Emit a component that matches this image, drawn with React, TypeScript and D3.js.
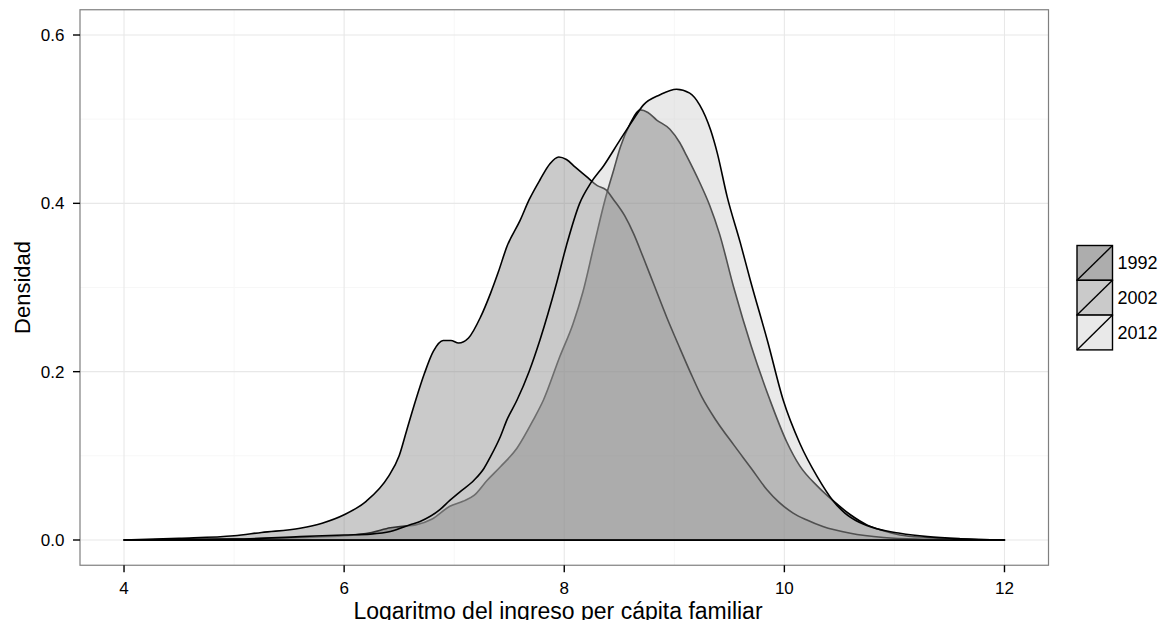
import React from 'react';
import * as d3 from 'd3';

// ---- data ----
const YEARS = ['1992', '2002', '2012'];

const X_1992 = [4.0, 5.0, 5.6, 6.0, 6.25, 6.42, 6.55, 6.65, 6.8, 6.96, 7.08, 7.18, 7.3, 7.42, 7.57, 7.72, 7.81, 7.96, 8.08, 8.17, 8.27, 8.37, 8.45, 8.51, 8.6, 8.69, 8.76, 8.84, 8.96, 9.05, 9.11, 9.23, 9.32, 9.41, 9.54, 9.7, 9.87, 10.02, 10.14, 10.3, 10.44, 10.6, 10.75, 10.9, 11.05, 11.3, 11.6, 12.0];
const D_1992 = [0, 0.001, 0.003, 0.005, 0.009, 0.0145, 0.0165, 0.018, 0.025, 0.040, 0.046, 0.053, 0.071, 0.087, 0.109, 0.143, 0.166, 0.218, 0.257, 0.295, 0.350, 0.404, 0.44, 0.467, 0.495, 0.511, 0.508, 0.499, 0.488, 0.472, 0.457, 0.425, 0.398, 0.364, 0.300, 0.23, 0.166, 0.117, 0.088, 0.064, 0.047, 0.03, 0.018, 0.011, 0.006, 0.003, 0.001, 0];

const X_2002 = [4.0, 4.5, 5.0, 5.25, 5.6, 5.8, 6.0, 6.2, 6.4, 6.5, 6.57, 6.65, 6.73, 6.81, 6.9, 6.97, 7.04, 7.13, 7.24, 7.33, 7.4, 7.48, 7.6, 7.68, 7.78, 7.87, 7.95, 8.02, 8.1, 8.2, 8.3, 8.38, 8.45, 8.55, 8.63, 8.72, 8.81, 8.93, 9.05, 9.15, 9.25, 9.38, 9.54, 9.7, 9.84, 9.95, 10.08, 10.2, 10.35, 10.6, 10.9, 11.2, 11.6, 12.0];
const D_2002 = [0, 0.002, 0.005, 0.009, 0.014, 0.02, 0.03, 0.046, 0.075, 0.10, 0.131, 0.166, 0.198, 0.224, 0.237, 0.237, 0.234, 0.240, 0.265, 0.293, 0.318, 0.349, 0.380, 0.404, 0.428, 0.447, 0.455, 0.452, 0.443, 0.432, 0.421, 0.416, 0.404, 0.385, 0.364, 0.335, 0.305, 0.265, 0.228, 0.198, 0.170, 0.142, 0.113, 0.085, 0.060, 0.045, 0.032, 0.024, 0.016, 0.008, 0.003, 0.001, 0.0003, 0];

const X_2012 = [4.0, 5.0, 5.6, 6.0, 6.24, 6.42, 6.51, 6.6, 6.69, 6.87, 6.96, 7.05, 7.18, 7.27, 7.33, 7.42, 7.48, 7.57, 7.68, 7.78, 7.93, 8.02, 8.14, 8.24, 8.36, 8.51, 8.62, 8.72, 8.87, 9.02, 9.14, 9.23, 9.33, 9.39, 9.48, 9.6, 9.69, 9.85, 9.99, 10.14, 10.3, 10.44, 10.55, 10.68, 10.85, 11.05, 11.3, 11.6, 12.0];
const D_2012 = [0, 0.001, 0.004, 0.006, 0.007, 0.010, 0.014, 0.018, 0.022, 0.036, 0.047, 0.057, 0.071, 0.085, 0.099, 0.123, 0.143, 0.166, 0.200, 0.238, 0.305, 0.350, 0.400, 0.424, 0.445, 0.476, 0.498, 0.517, 0.529, 0.5355, 0.531, 0.517, 0.487, 0.46, 0.408, 0.353, 0.309, 0.235, 0.166, 0.115, 0.075, 0.047, 0.032, 0.021, 0.013, 0.008, 0.004, 0.0015, 0];

const X_TICKS = [4, 6, 8, 10, 12];
const X_MINOR = [5, 7, 9, 11];
const Y_TICKS = [0, 0.2, 0.4, 0.6];
const Y_MINOR = [0.1, 0.3, 0.5];

const X_TITLE = 'Logaritmo del ingreso per cápita familiar';
const Y_TITLE = 'Densidad';

// ---- styles ----
const FILLS = ['#333333', '#7a7a7a', '#c8c8c8'];
const FILL_ALPHA = 0.4;
const FONT = '"Liberation Sans", Arial, Helvetica, sans-serif';

const W = 1170;
const H = 620;
const PANEL = { left: 80, right: 1048.5, top: 9.75, bottom: 565.25 };

export default function App() {
  const x = d3.scaleLinear().domain([3.6, 12.4]).range([PANEL.left, PANEL.right]);
  const y = d3.scaleLinear().domain([-0.03, 0.63]).range([PANEL.bottom, PANEL.top]);

  const series = [
    { name: YEARS[0], xs: X_1992, ds: D_1992 },
    { name: YEARS[1], xs: X_2002, ds: D_2002 },
    { name: YEARS[2], xs: X_2012, ds: D_2012 },
  ];

  const area = d3
    .area<[number, number]>()
    .x((d) => x(d[0]))
    .y0(y(0))
    .y1((d) => y(d[1]))
    .curve(d3.curveMonotoneX);

  const fmtY = d3.format('.1f');
  const keyX = 1077;
  const keyY = 245.5;
  const keyW = 35.5;
  const keyH = 34.8;

  return (
    <svg
      width={W}
      height={H}
      style={{ position: 'absolute', left: 0, top: 0, background: '#fff' }}
      fontFamily={FONT}
    >
      <rect x={0} y={0} width={W} height={H} fill="#fff" />
      <rect
        x={PANEL.left}
        y={PANEL.top}
        width={PANEL.right - PANEL.left}
        height={PANEL.bottom - PANEL.top}
        fill="#fff"
      />
      {/* minor grid */}
      {X_MINOR.map((v) => (
        <line key={'xm' + v} x1={x(v)} x2={x(v)} y1={PANEL.top} y2={PANEL.bottom} stroke="#f7f7f7" strokeWidth={1} />
      ))}
      {Y_MINOR.map((v) => (
        <line key={'ym' + v} x1={PANEL.left} x2={PANEL.right} y1={y(v)} y2={y(v)} stroke="#f7f7f7" strokeWidth={1} />
      ))}
      {/* major grid */}
      {X_TICKS.map((v) => (
        <line key={'xg' + v} x1={x(v)} x2={x(v)} y1={PANEL.top} y2={PANEL.bottom} stroke="#e8e8e8" strokeWidth={1.1} />
      ))}
      {Y_TICKS.map((v) => (
        <line key={'yg' + v} x1={PANEL.left} x2={PANEL.right} y1={y(v)} y2={y(v)} stroke="#e8e8e8" strokeWidth={1.1} />
      ))}

      {/* densities */}
      {series.map((s, i) => {
        const pts: [number, number][] = s.xs.map((xv, j) => [xv, s.ds[j]]);
        return (
          <path
            key={s.name}
            d={area(pts) || ''}
            fill={FILLS[i]}
            fillOpacity={FILL_ALPHA}
            stroke="#000"
            strokeWidth={1.6}
            strokeLinejoin="round"
          />
        );
      })}

      {/* panel border */}
      <rect
        x={PANEL.left}
        y={PANEL.top}
        width={PANEL.right - PANEL.left}
        height={PANEL.bottom - PANEL.top}
        fill="none"
        stroke="#7f7f7f"
        strokeWidth={1.2}
      />

      {/* x axis */}
      {X_TICKS.map((v) => (
        <g key={'xt' + v}>
          <line x1={x(v)} x2={x(v)} y1={PANEL.bottom} y2={PANEL.bottom + 7} stroke="#000" strokeWidth={1.4} />
          <text x={x(v)} y={594} textAnchor="middle" fontSize={17} fill="#000">
            {v}
          </text>
        </g>
      ))}
      {/* y axis */}
      {Y_TICKS.map((v) => (
        <g key={'yt' + v}>
          <line x1={PANEL.left - 7} x2={PANEL.left} y1={y(v)} y2={y(v)} stroke="#000" strokeWidth={1.4} />
          <text x={PANEL.left - 15.5} y={y(v) + 6} textAnchor="end" fontSize={17} fill="#000">
            {fmtY(v)}
          </text>
        </g>
      ))}

      {/* titles */}
      <text x={558} y={618.5} textAnchor="middle" fontSize={23} fill="#000">
        {X_TITLE}
      </text>
      <text
        transform={`translate(30, ${(PANEL.top + PANEL.bottom) / 2}) rotate(-90)`}
        textAnchor="middle"
        fontSize={22}
        fill="#000"
      >
        {Y_TITLE}
      </text>

      {/* legend */}
      {series.map((s, i) => {
        const ky = keyY + i * keyH;
        return (
          <g key={'lg' + s.name}>
            <rect x={keyX} y={ky} width={keyW} height={keyH} fill="#fff" />
            <rect
              x={keyX}
              y={ky}
              width={keyW}
              height={keyH}
              fill={FILLS[i]}
              fillOpacity={FILL_ALPHA}
              stroke="#000"
              strokeWidth={1.4}
            />
            <line x1={keyX} y1={ky + keyH} x2={keyX + keyW} y2={ky} stroke="#000" strokeWidth={1.4} />
            <text x={keyX + keyW + 5} y={ky + keyH / 2 + 6.5} fontSize={18} fill="#000">
              {s.name}
            </text>
          </g>
        );
      })}
    </svg>
  );
}
